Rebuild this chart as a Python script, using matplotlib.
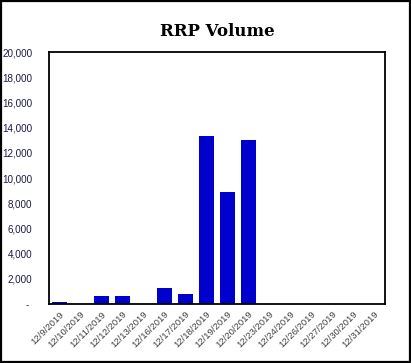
import matplotlib.pyplot as plt
from matplotlib.patches import Rectangle
from matplotlib.ticker import FuncFormatter

dates = ["12/9/2019", "12/10/2019", "12/11/2019", "12/12/2019", "12/13/2019",
         "12/16/2019", "12/17/2019", "12/18/2019", "12/19/2019", "12/20/2019",
         "12/23/2019", "12/24/2019", "12/26/2019", "12/27/2019", "12/30/2019",
         "12/31/2019"]
volume = [150, 0, 600, 600, 0, 1300, 820, 13360, 8920, 13030,
          0, 0, 0, 0, 0, 0]
y_ticks = list(range(0, 20001, 2000))


def acct(v, pos):
    return "- " if v == 0 else f"{v:,.0f}"


fig = plt.figure(figsize=(4.11, 3.63), dpi=100)
fig.patches.append(Rectangle((0.002, 0.002), 0.995, 0.995, transform=fig.transFigure,
                             fill=False, edgecolor="black", linewidth=1.6))

ax = fig.add_axes([49 / 411, 59 / 363, 336 / 411, 252 / 363])
x = range(len(dates))
ax.bar(x, volume, width=0.67, color="#0000CC")

ax.set_xlim(-0.5, len(dates) - 0.5)
ax.set_ylim(0, 20000)
ax.set_yticks(y_ticks)
ax.yaxis.set_major_formatter(FuncFormatter(acct))
ax.tick_params(axis="y", length=0, pad=12, labelsize=7.1, labelcolor="#1a1a40")
for lbl in ax.get_yticklabels():
    lbl.set_family("Liberation Sans")
ax.set_xticks(list(x))
ax.set_xticklabels(dates, rotation=45, ha="right", rotation_mode="anchor",
                   fontsize=6.8, color="#404040", family="Liberation Sans")
ax.tick_params(axis="x", length=0, pad=4)
for s in ax.spines.values():
    s.set_linewidth(1.3)

fig.text(217 / 411, 1 - 36 / 363, "RRP Volume", ha="center", va="baseline",
         fontsize=12, fontweight="bold", family="DejaVu Serif")

fig.savefig("out.png", dpi=100)
